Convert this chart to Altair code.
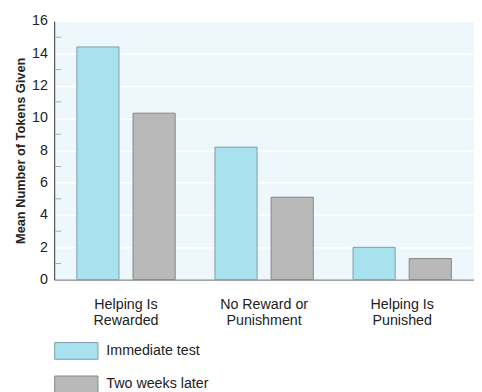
import altair as alt
import pandas as pd

conditions = ["Helping Is\nRewarded", "No Reward or\nPunishment", "Helping Is\nPunished"]
series = ["Immediate test", "Two weeks later"]
immediate = [14.4, 8.2, 2.0]
two_weeks = [10.3, 5.1, 1.3]
y_label_ticks = [0, 2, 4, 6, 8, 10, 12, 14, 16]
y_minor_ticks = [1, 3, 5, 7, 9, 11, 13, 15]
fills = ["#a8e2ee", "#b9b9b9"]
strokes = ["#7e9ea6", "#858585"]

rows = []
for c, a, b in zip(conditions, immediate, two_weeks):
    rows.append({"condition": c, "series": series[0], "value": a})
    rows.append({"condition": c, "series": series[1], "value": b})
df = pd.DataFrame(rows)
minor = pd.DataFrame({"tick": y_minor_ticks})

FONT = "Liberation Sans, Arial, Helvetica, sans-serif"
TXT = "#222222"


def yenc(field):
    return alt.Y(
        f"{field}:Q",
        title="Mean Number of Tokens Given",
        scale=alt.Scale(domain=[0, 16], nice=False, zero=True),
        axis=alt.Axis(
            values=y_label_ticks, ticks=False, domainColor="#333333", domainWidth=1,
            labelFontSize=14.5, labelFont=FONT, labelColor=TXT, labelPadding=7,
            gridColor="#ffffff", gridWidth=1.5,
            titleFont=FONT, titleFontSize=13, titleFontWeight="bold", titleColor=TXT,
            titlePadding=4,
        ),
    )


x = alt.X(
    "condition:N", sort=conditions, title=None,
    scale=alt.Scale(paddingInner=0.288, paddingOuter=0.164),
    axis=alt.Axis(
        labelAngle=0, labelExpr="split(datum.label, '\\n')", ticks=False,
        domainColor="#888888", domainWidth=1.5, labelFontSize=14.5, labelFont=FONT,
        labelColor=TXT, labelPadding=18, labelLineHeight=17, labelBaseline="top", grid=False,
    ),
)

bars = alt.Chart(df).mark_bar(strokeWidth=1).encode(
    x=x,
    xOffset=alt.XOffset("series:N", sort=series, scale=alt.Scale(paddingInner=0.25, paddingOuter=0)),
    y=yenc("value"),
    fill=alt.Fill(
        "series:N", sort=series, scale=alt.Scale(domain=series, range=fills),
        legend=alt.Legend(
            title=None, orient="none", legendX=0, legendY=313, direction="vertical",
            symbolType="M-1,-0.386L1,-0.386L1,0.386L-1,0.386Z", symbolSize=1936,
            labelFontSize=14.5, labelFont=FONT, labelColor=TXT, labelOffset=8,
            rowPadding=1, padding=0, symbolStrokeWidth=1, symbolOpacity=1,
        ),
    ),
    stroke=alt.Stroke("series:N", sort=series, scale=alt.Scale(domain=series, range=strokes)),
)

ticks = alt.Chart(minor).mark_rule(color="#aaaaaa", strokeWidth=1).encode(
    y=yenc("tick"), x=alt.value(1), x2=alt.value(7)
)

chart = alt.layer(bars, ticks).properties(
    width=427, height=263,
    autosize=alt.AutoSizeParams(type="none"),
    padding={"left": 47, "top": 10, "right": 0, "bottom": 111},
).configure_view(fill="#eef7fb", stroke=None)

chart.save("out.html", embed_options={"renderer": "svg", "actions": False})
